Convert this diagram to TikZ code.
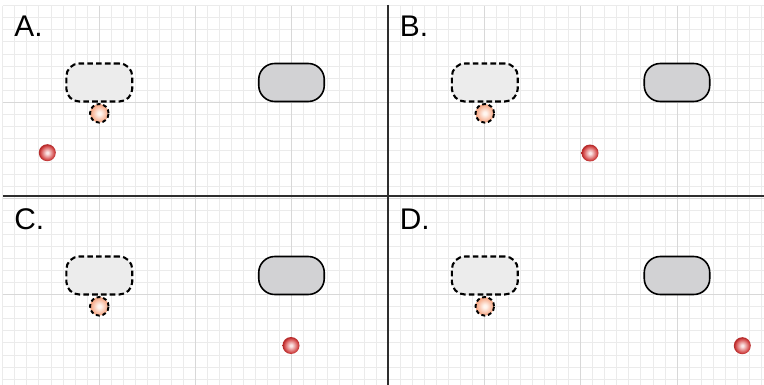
\documentclass[tikz,border=0pt]{standalone}
\usepackage{fontspec}
\setmainfont{Liberation Sans}

\definecolor{gridminor}{HTML}{EBEBEB}
\definecolor{gridmajor}{HTML}{D8D8D8}
\definecolor{divider}{HTML}{2E2E2E}
\definecolor{dashfill}{HTML}{ECECEC}
\definecolor{solidfill}{HTML}{D2D2D4}
\definecolor{ballin}{HTML}{FBE6E6}
\definecolor{ballmid}{HTML}{D44A4A}
\definecolor{ballout}{HTML}{B52A2A}
\definecolor{dotin}{HTML}{FFF6F0}
\definecolor{dotout}{HTML}{F6A886}

\pgfdeclareradialshading{redball}{\pgfpoint{0bp}{0bp}}{%
  color(0bp)=(ballin); color(3bp)=(ballin); color(20bp)=(ballmid);
  color(24bp)=(ballout); color(25bp)=(ballout); color(50bp)=(ballout)}
\pgfdeclareradialshading{peachdot}{\pgfpoint{0bp}{0bp}}{%
  color(0bp)=(dotin); color(4bp)=(dotin); color(23bp)=(dotout);
  color(25bp)=(dotout); color(50bp)=(dotout)}

\begin{document}
\begin{tikzpicture}[x=0.02cm, y=-0.02cm,
    minor/.style={gridminor, line width=0.4pt},
    major/.style={gridmajor, line width=0.5pt},
    divline/.style={divider, line width=1.1pt},
    letter/.style={anchor=base west, inner sep=0pt,
      font=\fontsize{17}{20}\selectfont},
    dashbox/.style={draw, dashed, dash pattern=on 3.2pt off 1.8pt,
      line width=1.2pt, fill=dashfill, rounded corners=0.26cm,
      minimum width=1.32cm, minimum height=0.76cm, inner sep=0pt},
    solidbox/.style={draw, line width=0.9pt, fill=solidfill,
      rounded corners=0.32cm,
      minimum width=1.31cm, minimum height=0.76cm, inner sep=0pt},
    dot/.style={circle, draw, dashed, dash pattern=on 2.2pt off 1.6pt,
      line width=1.1pt, shading=peachdot,
      minimum size=0.372cm, inner sep=0pt},
    ball/.style={circle, shading=redball,
      minimum size=0.34cm, inner sep=0pt},
  ]
  \useasboundingbox (0,0) rectangle (764,385);
  \fill[white] (0,0) rectangle (764,385);

  % grid
  \foreach \i in {0,...,63} {
    \pgfmathsetmacro\gx{2.7+12.04*\i}
    \draw[minor] (\gx,5.7) -- (\gx,385);
  }
  \foreach \i in {0,...,31} {
    \pgfmathsetmacro\gy{5.7+12.04*\i}
    \draw[minor] (2.7,\gy) -- (764,\gy);
  }
  \foreach \i in {1,...,7} {
    \pgfmathsetmacro\gx{2.7+96.32*\i}
    \draw[major] (\gx,5.7) -- (\gx,385);
  }
  \foreach \i in {1,...,3} {
    \pgfmathsetmacro\gy{5.7+96.32*\i}
    \draw[major] (2.7,\gy) -- (764,\gy);
  }

  % panels
  \foreach \p/\dx/\dy/\bx/\by in {A/0/0/47.3/152.7, B/385.5/0/204.5/153,
      C/0/193/291/152.5, D/385.5/193/356.8/152.7} {
    \begin{scope}[shift={(\dx,\dy)}]
      \node[letter] (lab\p) at (14,36.7) {\p.};
      \node[dashbox] (dash\p) at (99.3,82.5) {};
      \node[solidbox] (solid\p) at (291.5,82.5) {};
      \node[dot] (dot\p) at (99.3,113.3) {};
      \node[ball] (ball\p) at (\bx,\by) {};
    \end{scope}
  }

  % dividers
  \coordinate (vtop) at (388,5);
  \coordinate (vbot) at (388,385);
  \coordinate (hleft) at (3,196);
  \coordinate (hright) at (764,196);
  \draw[divline] (vtop) -- (vbot);
  \draw[divline] (hleft) -- (hright);
\end{tikzpicture}
\end{document}
